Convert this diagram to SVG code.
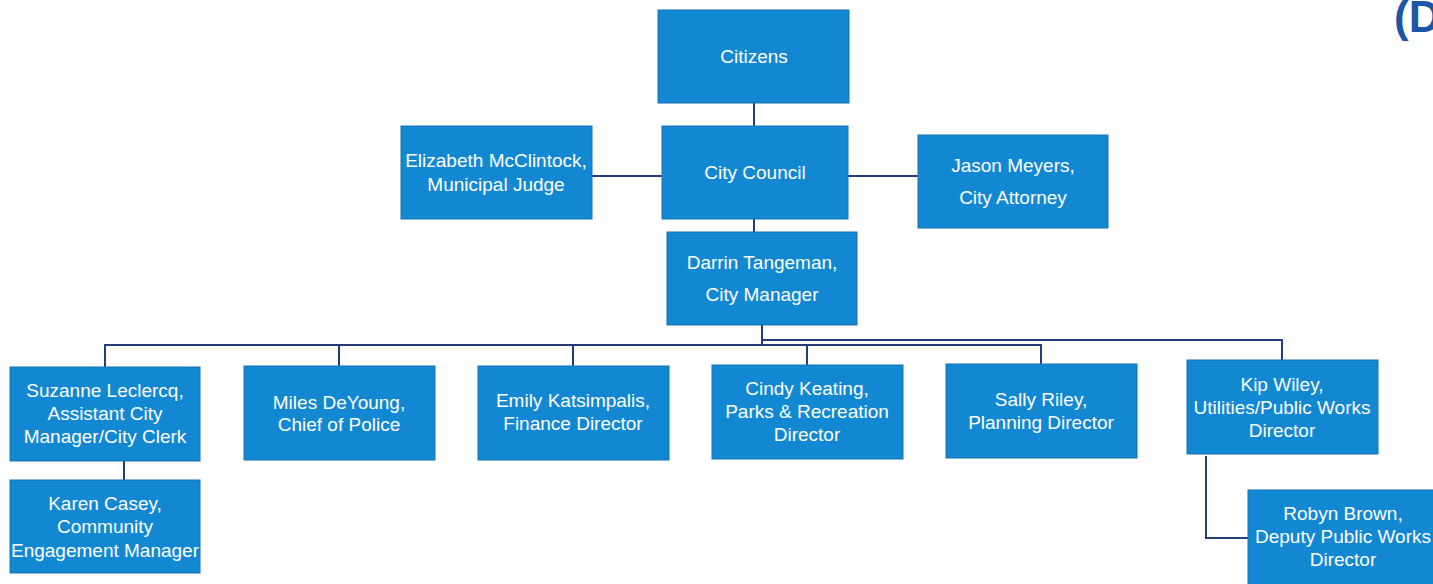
<svg xmlns="http://www.w3.org/2000/svg" width="1433" height="584" viewBox="0 0 1433 584">
<style>
.box{fill:#1388d2;stroke:#1572b3;stroke-width:1}
.t{fill:#ffffff;font-family:"Liberation Sans",Arial,sans-serif;font-size:19px;text-anchor:middle}
.c{fill:none;stroke:#233f7a;stroke-width:2}
</style>
<rect width="1433" height="584" fill="#ffffff"/>
<text x="1394" y="32" font-family="Liberation Sans,Arial,sans-serif" font-size="44" font-weight="bold" fill="#1d56a8">(D</text>
<g id="connectors">
<path class="c" d="M754 103V126"/>
<path class="c" d="M592 176H662"/>
<path class="c" d="M848 176H918"/>
<path class="c" d="M754 219V232"/>
<path class="c" d="M762 325V345"/>
<path class="c" d="M105 367V345H1041V364"/>
<path class="c" d="M762 340H1282V360"/>
<path class="c" d="M339 345V366"/>
<path class="c" d="M573 345V366"/>
<path class="c" d="M807 345V365"/>
<path class="c" d="M124 461V480"/>
<path class="c" d="M1206 456V538H1248"/>
</g>
<g id="citizens"><rect class="box" x="658" y="10" width="191" height="93"/><text class="t" x="754" y="63">Citizens</text></g>
<g id="council"><rect class="box" x="662" y="126" width="186" height="93"/><text class="t" x="755" y="179">City Council</text></g>
<g id="judge"><rect class="box" x="401" y="126" width="191" height="93"/><text class="t" x="496" y="167">Elizabeth McClintock,</text><text class="t" x="496" y="191">Municipal Judge</text></g>
<g id="attorney"><rect class="box" x="918" y="135" width="190" height="93"/><text class="t" x="1013" y="172">Jason Meyers,</text><text class="t" x="1013" y="204">City Attorney</text></g>
<g id="manager"><rect class="box" x="667" y="232" width="190" height="93"/><text class="t" x="762" y="269">Darrin Tangeman,</text><text class="t" x="762" y="301">City Manager</text></g>
<g id="suzanne"><rect class="box" x="10" y="367" width="190" height="94"/><text class="t" x="105" y="397">Suzanne Leclercq,</text><text class="t" x="105" y="420">Assistant City</text><text class="t" x="105" y="443">Manager/City Clerk</text></g>
<g id="miles"><rect class="box" x="244" y="366" width="191" height="94"/><text class="t" x="339" y="409">Miles DeYoung,</text><text class="t" x="339" y="431">Chief of Police</text></g>
<g id="emily"><rect class="box" x="478" y="366" width="191" height="94"/><text class="t" x="573" y="407">Emily Katsimpalis,</text><text class="t" x="573" y="430">Finance Director</text></g>
<g id="cindy"><rect class="box" x="712" y="365" width="191" height="94"/><text class="t" x="807" y="395">Cindy Keating,</text><text class="t" x="807" y="418">Parks &amp; Recreation</text><text class="t" x="807" y="441">Director</text></g>
<g id="sally"><rect class="box" x="946" y="364" width="191" height="94"/><text class="t" x="1041" y="406">Sally Riley,</text><text class="t" x="1041" y="429">Planning Director</text></g>
<g id="kip"><rect class="box" x="1187" y="360" width="191" height="94"/><text class="t" x="1282" y="391">Kip Wiley,</text><text class="t" x="1282" y="414">Utilities/Public Works</text><text class="t" x="1282" y="437">Director</text></g>
<g id="karen"><rect class="box" x="10" y="480" width="190" height="93"/><text class="t" x="105" y="510">Karen Casey,</text><text class="t" x="105" y="533">Community</text><text class="t" x="105" y="557">Engagement Manager</text></g>
<g id="robyn"><rect class="box" x="1248" y="490" width="190" height="96"/><text class="t" x="1343" y="520">Robyn Brown,</text><text class="t" x="1343" y="543">Deputy Public Works</text><text class="t" x="1343" y="566">Director</text></g>
</svg>
